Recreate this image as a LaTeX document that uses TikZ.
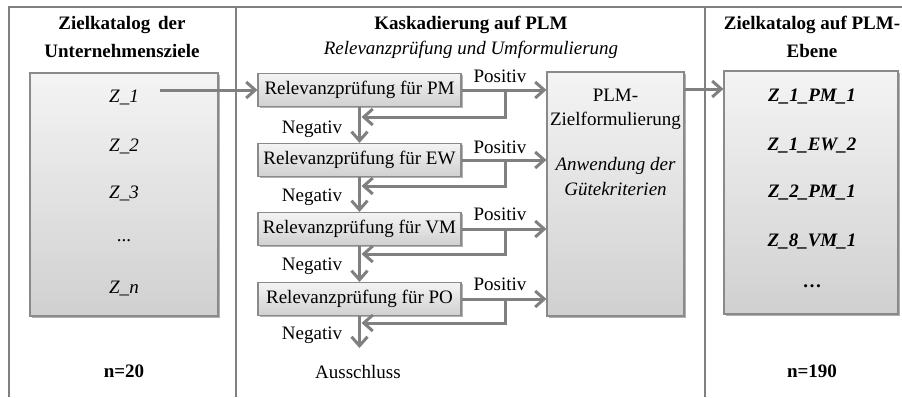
\documentclass[tikz,border=0pt]{standalone}
\usepackage{fontspec}
\setmainfont{Liberation Serif}
\usetikzlibrary{arrows.meta,shadows}
\definecolor{linegray}{RGB}{128,128,128}
\definecolor{boxline}{RGB}{138,138,138}
\definecolor{framegray}{RGB}{128,128,128}
\definecolor{shadetop}{RGB}{244,244,244}
\definecolor{shadebot}{RGB}{208,208,208}
\tikzset{
  txt/.style={font=\fontsize{19}{22}\selectfont, inner sep=0pt},
  ttl/.style={font=\fontsize{19}{22}\selectfont\bfseries, inner sep=0pt},
  sub/.style={font=\fontsize{19}{22}\selectfont\itshape, inner sep=0pt},
  lz/.style={font=\fontsize{19}{22}\selectfont\itshape, inner sep=0pt},
  rz/.style={font=\fontsize{19}{22}\selectfont\bfseries\itshape, inner sep=0pt},
  shbox/.style={draw=boxline, line width=1.1pt, top color=shadetop, bottom color=shadebot,
    drop shadow={shadow xshift=1.6pt, shadow yshift=-1.8pt, opacity=0.3, fill=black}},
  relbox/.style={shbox, minimum width=203pt, minimum height=33pt, inner sep=0pt,
    font=\fontsize{19}{22}\selectfont},
  bigbox/.style={shbox, inner sep=0pt},
  arr/.style={draw=linegray, line width=3pt,
    -{Straight Barb[length=9pt,width=16pt,line width=3pt]}},
  frameline/.style={draw=framegray, line width=1.3pt},
}
\begin{document}
\begin{tikzpicture}[x=1pt,y=-1pt]
\useasboundingbox (0,0) rectangle (902,397);
% frame
\draw[frameline] (9,397) -- (9,7) -- (902,7);
\draw[frameline] (236,7) -- (236,397);
\draw[frameline] (705,7) -- (705,397);

% titles
\node[ttl] (t1a) at (122,25) {Zielkatalog\, der};
\node[ttl] (t1b) at (122,51) {Unternehmensziele};
\node[ttl] (t2a) at (471,25) {Kaskadierung auf PLM};
\node[sub] (t2b) at (471,50) {Relevanzprüfung und Umformulierung};
\node[ttl] (t3a) at (812,25) {Zielkatalog auf PLM-};
\node[ttl] (t3b) at (812,51) {Ebene};

% left catalog
\node[bigbox, minimum width=188pt, minimum height=243pt] (lcat) at (124,194.5) {};
\node[lz] (z1) at (124,97) {Z\_1};
\node[lz] (z2) at (124,146) {Z\_2};
\node[lz] (z3) at (124,193) {Z\_3};
\node[txt] (zd) at (124,241) {...};
\node[lz] (zn) at (124,288) {Z\_\/n};
\node[ttl] (n20) at (124,371) {n=20};

% relevance boxes
\node[relbox] (pm) at (359.5,90) {Relevanzprüfung für PM};
\node[relbox] (ew) at (359.5,160) {Relevanzprüfung für EW};
\node[relbox] (vm) at (359.5,229) {Relevanzprüfung für VM};
\node[relbox] (po) at (359.5,299) {Relevanzprüfung für PO};

% PLM box
\node[bigbox, minimum width=137pt, minimum height=244pt] (plm) at (615.5,194) {};
\node[txt] (plma) at (615.5,95) {PLM-};
\node[txt] (plmb) at (615.5,121) {Zielformulierung};
\node[sub] (plmc) at (615.5,166) {Anwendung der};
\node[sub] (plmd) at (615.5,189) {Gütekriterien};

% right catalog
\node[bigbox, minimum width=174pt, minimum height=243pt] (rcat) at (811,192.5) {};
\node[rz] (r1) at (812,97) {Z\_1\_PM\_1};
\node[rz] (r2) at (812,146) {Z\_1\_EW\_2};
\node[rz] (r3) at (812,193) {Z\_2\_PM\_1};
\node[rz] (r4) at (812,241) {Z\_8\_VM\_1};
\node[ttl] (r5) at (812,286) {…};
\node[ttl] (n190) at (812,371) {n=190};

% coordinates
\coordinate (z1out) at (160,90);
\coordinate (plmout) at (684,89);
\coordinate (bpm) at (505,117);
\coordinate (bew) at (505,186);
\coordinate (bvm) at (505,254);
\coordinate (bpo) at (505,323);
\coordinate (ausend) at (359.5,348);

% connectors
\draw[arr] (z1out) -- (pm.west);
\draw[arr] (plmout) -- (rcat.west |- plmout);

\foreach \b/\c in {pm/bpm, ew/bew, vm/bvm, po/bpo}{
  \draw[arr] (\b.east) -- (plm.west |- \b.east);
  \draw[arr] (\b.east -| \c) -- (\c) -- ([xshift=2pt]\b.south |- \c);
}
\draw[arr] (pm.south) -- (ew.north);
\draw[arr] (ew.south) -- (vm.north);
\draw[arr] (vm.south) -- (po.north);
\draw[arr] (po.south) -- (ausend);

% labels
\node[txt] (p1) at (500,76) {Positiv};
\node[txt] (p2) at (500,147) {Positiv};
\node[txt] (p3) at (500,214) {Positiv};
\node[txt] (p4) at (500,284) {Positiv};
\node[txt] (g1) at (312,129) {Negativ};
\node[txt] (g2) at (312,197) {Negativ};
\node[txt] (g3) at (312,266) {Negativ};
\node[txt] (g4) at (312,335) {Negativ};
\node[txt] (aus) at (358,372) {Ausschluss};
\end{tikzpicture}
\end{document}
